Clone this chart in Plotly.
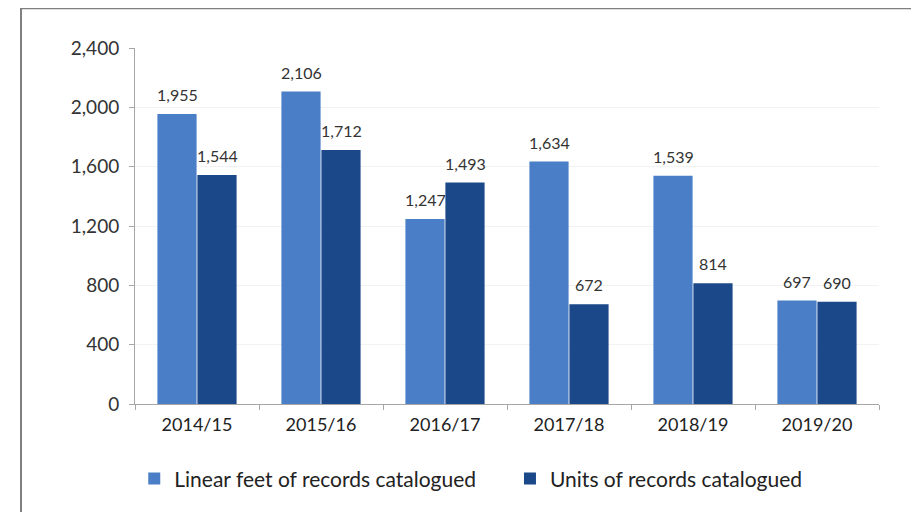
import plotly.graph_objects as go

years = ["2014/15", "2015/16", "2016/17", "2017/18", "2018/19", "2019/20"]
linear_feet = [1955, 2106, 1247, 1634, 1539, 697]
units = [1544, 1712, 1493, 672, 814, 690]
y_ticks = [0, 400, 800, 1200, 1600, 2000, 2400]

FONT = "Lato, Open Sans, sans-serif"
LIGHT = "#4A7EC6"
DARK = "#1B4888"

fig = go.Figure()
fig.add_trace(go.Bar(x=years, y=linear_feet, name="Linear feet of records catalogued",
                     marker=dict(color=LIGHT, line=dict(width=0)), legend="legend"))
fig.add_trace(go.Bar(x=years, y=units, name="Units of records catalogued",
                     marker=dict(color=DARK, line=dict(width=0)), legend="legend2"))

# data labels above bars
for vals, shift in ((linear_feet, -20), (units, 20)):
    for yr, v in zip(years, vals):
        fig.add_annotation(x=yr, y=v, text=f"{v:,}", showarrow=False,
                           xshift=shift, yshift=8, yanchor="bottom",
                           font=dict(family=FONT, size=16, color="#333333"))

# outer frame
fig.add_shape(type="rect", xref="paper", yref="paper",
              x0=-0.1532, x1=1.0497, y0=-0.5, y1=1.112,
              line=dict(color="#7f7f7f", width=2), layer="below")

legend_style = dict(orientation="h", y=-0.153, yanchor="top", xanchor="left",
                    bgcolor="rgba(0,0,0,0)",
                    font=dict(family=FONT, size=21, color="#222222"), itemwidth=30)

# page body adds an 8px offset, so margins are shifted by that
fig.update_layout(
    width=911, height=504,
    margin=dict(l=127, r=40, t=40, b=108),
    paper_bgcolor="white", plot_bgcolor="white",
    barmode="group", bargap=0.355, bargroupgap=0.02,
    font=dict(family=FONT, size=16, color="#333333"),
    legend=dict(x=-0.001, **legend_style),
    legend2=dict(x=0.504, **legend_style),
    showlegend=True,
)
fig.update_yaxes(range=[0, 2400], tickvals=y_ticks, tickformat=",",
                 showgrid=True, gridcolor="#f2f2f2", zeroline=False,
                 showline=True, linecolor="#a6a6a6", ticks="outside",
                 ticklen=5, tickcolor="#a6a6a6", ticklabelstandoff=6,
                 tickfont=dict(family=FONT, size=19, color="#333333"))
fig.update_xaxes(showline=True, linecolor="#a6a6a6", ticks="outside",
                 tickson="boundaries", ticklen=5, tickcolor="#a6a6a6",
                 ticklabelstandoff=4,
                 tickfont=dict(family=FONT, size=18, color="#222222"))

fig.write_html("out.html")
